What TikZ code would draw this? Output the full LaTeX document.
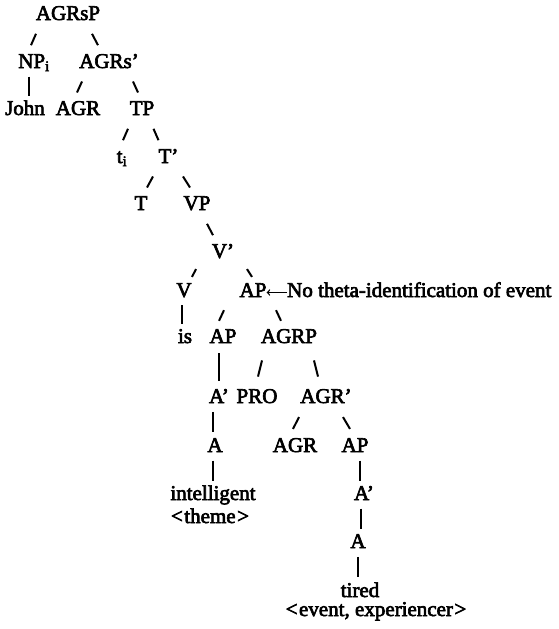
\documentclass[tikz,border=0pt]{standalone}
\usepackage{fontspec}
\setmainfont{Liberation Serif}
\newfontfamily\treefont{Liberation Serif}[Ligatures=TeX,FakeBold=3]
\usetikzlibrary{arrows,calc}
\newcommand{\branch}[4]{\draw[br] ($(#1.south -| #2.north)!.3!(#2.north)+(#3,0)$) -- ($(#1.south -| #2.north)!.7!(#2.north)+(#4,0)$);}
\newcommand{\stem}[3]{\draw[br] ($(#1.south -| #2.north)!.12!(#2.north)+(#3,0)$) -- ($(#1.south -| #2.north)!.82!(#2.north)+(#3,0)$);}

\begin{document}
\begin{tikzpicture}[x=1pt,y=-1pt,
    every node/.style={font=\treefont\fontsize{21}{25}\selectfont,inner sep=0pt,
        text height=14pt,text depth=5pt,anchor=base},
    br/.style={line width=2pt},
    arr/.style={-to,line width=1.3pt}]
    \useasboundingbox (0,0) rectangle (558,629);
    \node (agrsp) at (68,20) {AGRsP};
    \node (np) at (34,68) {NP\textsubscript{i}};
    \node (agrsbar) at (109,68) {AGRs'};
    \node (john) at (25,115) {John};
    \node (agra) at (78,115) {AGR};
    \node (tp) at (142,115) {TP};
    \node (ti) at (122,163) {t\textsubscript{i}};
    \node (tbar) at (168.5,163) {T'};
    \node (t) at (141,210) {T};
    \node (vp) at (197,210) {VP};
    \node (vbar) at (223,258) {V'};
    \node (v) at (184,297) {V};
    \node (apa) at (253,297) {AP};
    \node (note) at (287,297) [anchor=base west] {No theta-identification of event};
    \node (is) at (185,343) {is};
    \node (apb) at (223,343) {AP};
    \node (agrp) at (289,343) {AGRP};
    \node (abara) at (219,403) {A'};
    \node (pro) at (257,403) {PRO};
    \node (agrbar) at (326,403) {AGR'};
    \node (aa) at (215,452) {A};
    \node (agrb) at (295,452) {AGR};
    \node (apc) at (355,452) {AP};
    \node (intel) at (213,500) {intelligent};
    \node (theme) at (210,523) {<\kern1.5pt theme\kern1.5pt>};
    \node (abarb) at (364,500) {A'};
    \node (ab) at (358,548) {A};
    \node (tired) at (360,597) {tired};
    \node (evexp) at (376,616) {<\kern1.5pt event, experiencer\kern1.5pt>};
    \draw[arr] (note.west) -- (apa.east);
    \branch{agrsp}{np}{2}{-3}
    \branch{agrsp}{agrsbar}{-17}{-11}
    \stem{np}{john}{4}
    \branch{agrsbar}{agra}{4}{-1}
    \branch{agrsbar}{tp}{-9}{-4}
    \branch{tp}{ti}{6}{1}
    \branch{tp}{tbar}{-15}{-10}
    \branch{tbar}{t}{12}{6}
    \branch{tbar}{vp}{-14}{-7}
    \branch{vp}{vbar}{-16}{-10}
    \branch{vbar}{v}{12}{8}
    \branch{vbar}{apa}{-6}{-1}
    \stem{v}{is}{-3}
    \branch{apa}{apb}{1}{-4}
    \branch{apa}{agrp}{-13}{-8}
    \stem{apb}{abara}{0}
    \branch{agrp}{pro}{5}{1}
    \branch{agrp}{agrbar}{-12}{-8}
    \stem{abara}{aa}{-2}
    \branch{agrbar}{agrb}{4}{-2}
    \branch{agrbar}{apc}{-12}{-5}
    \stem{aa}{intel}{0}
    \stem{apc}{abarb}{-4}
    \stem{abarb}{ab}{3}
    \stem{ab}{tired}{-2}
\end{tikzpicture}
\end{document}
